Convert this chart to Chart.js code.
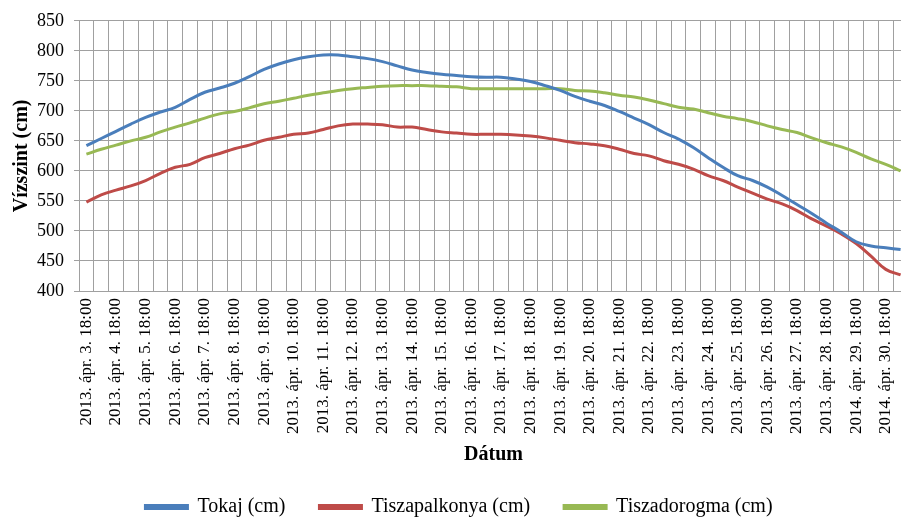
<!DOCTYPE html>
<html>
<head>
<meta charset="utf-8">
<script src="https://cdn.jsdelivr.net/npm/chart.js@4"></script>
<style>
  body { margin: 0; overflow: hidden; background: #fff; }
  #wrap { width: 918px; height: 517px; }
</style>
</head>
<body>
<div id="wrap"><canvas id="levelChart" width="918" height="517"></canvas></div>
<script>
// 12-hour readings; only the 18:00 labels are shown on the axis
const categories = [
  "2013. ápr. 3. 18:00",
  "2013. ápr. 4. 6:00", "2013. ápr. 4. 18:00", "2013. ápr. 5. 6:00", "2013. ápr. 5. 18:00",
  "2013. ápr. 6. 6:00", "2013. ápr. 6. 18:00", "2013. ápr. 7. 6:00", "2013. ápr. 7. 18:00",
  "2013. ápr. 8. 6:00", "2013. ápr. 8. 18:00", "2013. ápr. 9. 6:00", "2013. ápr. 9. 18:00",
  "2013. ápr. 10. 6:00", "2013. ápr. 10. 18:00", "2013. ápr. 11. 6:00", "2013. ápr. 11. 18:00",
  "2013. ápr. 12. 6:00", "2013. ápr. 12. 18:00", "2013. ápr. 13. 6:00", "2013. ápr. 13. 18:00",
  "2013. ápr. 14. 6:00", "2013. ápr. 14. 18:00", "2013. ápr. 15. 6:00", "2013. ápr. 15. 18:00",
  "2013. ápr. 16. 6:00", "2013. ápr. 16. 18:00", "2013. ápr. 17. 6:00", "2013. ápr. 17. 18:00",
  "2013. ápr. 18. 6:00", "2013. ápr. 18. 18:00", "2013. ápr. 19. 6:00", "2013. ápr. 19. 18:00",
  "2013. ápr. 20. 6:00", "2013. ápr. 20. 18:00", "2013. ápr. 21. 6:00", "2013. ápr. 21. 18:00",
  "2013. ápr. 22. 6:00", "2013. ápr. 22. 18:00", "2013. ápr. 23. 6:00", "2013. ápr. 23. 18:00",
  "2013. ápr. 24. 6:00", "2013. ápr. 24. 18:00", "2013. ápr. 25. 6:00", "2013. ápr. 25. 18:00",
  "2013. ápr. 26. 6:00", "2013. ápr. 26. 18:00", "2013. ápr. 27. 6:00", "2013. ápr. 27. 18:00",
  "2013. ápr. 28. 6:00", "2013. ápr. 28. 18:00", "2014. ápr. 29. 6:00", "2014. ápr. 29. 18:00",
  "2014. ápr. 30. 6:00", "2014. ápr. 30. 18:00", "2014. máj. 1. 6:00"
];

const tokaj = [
  642, 654, 666, 678, 689, 698, 706, 719, 731, 738, 746, 757, 769, 778,
  785, 790, 793, 793, 790, 787, 782, 775, 768, 764, 761, 759, 757, 756,
  756, 753, 749, 742, 734, 724, 716, 709, 699, 688, 677, 664, 653, 639,
  622, 606, 592, 584, 573, 559, 544, 529, 513, 498, 482, 475, 472, 469
];

const tiszapalkonya = [
  548, 560, 568, 575, 584, 596, 606, 611, 622, 629, 637, 643, 651, 656,
  661, 663, 669, 675, 678, 678, 677, 673, 673, 669, 665, 663, 661, 661,
  661, 660, 658, 655, 651, 647, 645, 642, 636, 629, 625, 617, 611, 603,
  592, 584, 573, 563, 553, 545, 534, 520, 508, 495, 479, 458, 436, 427
];

const tiszadorogma = [
  628, 636, 643, 650, 656, 665, 673, 680, 688, 695, 699, 705, 712, 716,
  721, 726, 730, 734, 737, 739, 741, 742, 742, 742, 741, 740, 737, 737,
  737, 737, 737, 737, 737, 734, 733, 730, 726, 723, 718, 712, 706, 703,
  697, 691, 687, 682, 675, 669, 664, 655, 647, 640, 631, 620, 611, 600
];

const yTicks = { min: 400, max: 850, step: 50 };

const gridColor = "#a0a0a0";
const serif = "'Liberation Serif', 'Times New Roman', serif";

function series(label, data, color) {
  return {
    label: label,
    data: data,
    borderColor: color,
    backgroundColor: color,
    borderWidth: 3,
    pointRadius: 0,
    tension: 0.4,
    fill: false
  };
}

// keep the legend strip at a fixed height so the plot area lines up
const legendHeight = {
  id: "legendHeight",
  beforeInit(chart) {
    const fit = chart.legend.fit;
    chart.legend.fit = function () {
      fit.bind(chart.legend)();
      this.height = 54;
    };
  }
};

const ctx = document.getElementById("levelChart").getContext("2d");
const levelChart = new Chart(ctx, {
  type: "line",
  data: {
    labels: categories,
    datasets: [
      series("Tokaj (cm)", tokaj, "#4a7ebb"),
      series("Tiszapalkonya (cm)", tiszapalkonya, "#be4b48"),
      series("Tiszadorogma (cm)", tiszadorogma, "#98b954")
    ]
  },
  plugins: [legendHeight],
  options: {
    responsive: false,
    animation: false,
    layout: { padding: { top: 9, right: 10, left: 10, bottom: 0 } },
    plugins: {
      tooltip: { enabled: false },
      legend: {
        position: "bottom",
        labels: {
          font: { family: serif, size: 20 },
          color: "#000",
          boxWidth: 42,
          boxHeight: 3,
          padding: 34
        }
      }
    },
    scales: {
      x: {
        offset: true,
        grid: { color: gridColor, offset: true, drawTicks: false },
        border: { color: gridColor },
        ticks: {
          autoSkip: false,
          minRotation: 90,
          maxRotation: 90,
          padding: 7,
          color: "#000",
          font: { family: serif, size: 17 },
          callback: function (value, index) {
            return index % 2 === 0 ? this.getLabelForValue(value) : "";
          }
        },
        title: {
          display: true,
          text: "Dátum",
          color: "#000",
          font: { family: serif, size: 20, weight: "bold" },
          padding: { top: 0, bottom: -4 }
        },
        afterFit: function (scale) {
          scale.height = 172;
          scale.paddingLeft = 0;
          scale.paddingRight = 0;
        }
      },
      y: {
        min: yTicks.min,
        max: yTicks.max,
        grid: { color: gridColor, tickLength: 5 },
        border: { color: gridColor },
        ticks: {
          stepSize: yTicks.step,
          padding: 10,
          color: "#000",
          font: { family: serif, size: 18 }
        },
        title: {
          display: true,
          text: "Vízszint (cm)",
          color: "#000",
          font: { family: serif, size: 20, weight: "bold" },
          padding: { top: 0, bottom: 2 }
        },
        afterFit: function (scale) { scale.width = 69; }
      }
    }
  }
});
</script>
</body>
</html>
